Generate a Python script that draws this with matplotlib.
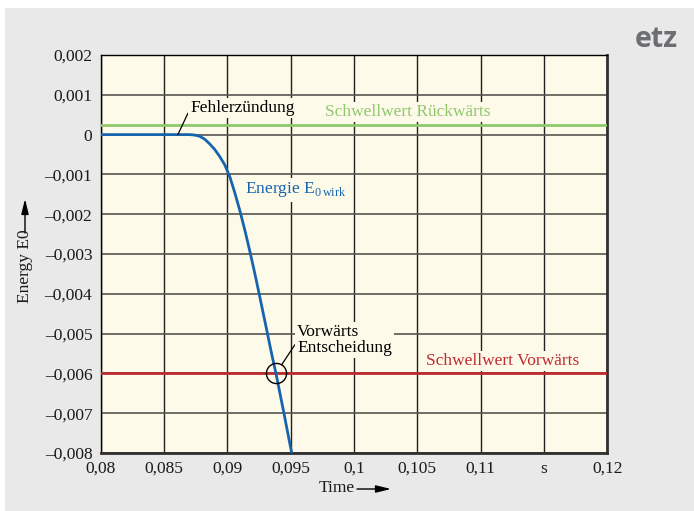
import numpy as np
import matplotlib
matplotlib.use("Agg")
import matplotlib.pyplot as plt
from matplotlib.patches import Rectangle

plt.rcParams['font.family'] = ['Liberation Serif', 'DejaVu Serif']
plt.rcParams['mathtext.fontset'] = 'custom'
plt.rcParams['mathtext.rm'] = 'Liberation Serif'

# ---- data ----
time_s = [0.0800, 0.0870, 0.0874, 0.0878, 0.0882, 0.0886, 0.0890, 0.0894,
          0.0898, 0.0902, 0.0906, 0.0910, 0.0914, 0.0918, 0.0922, 0.0926,
          0.0930, 0.0935, 0.09384, 0.09447, 0.09508]
energy = [0.0, 0.0, -0.00001, -0.00004, -0.00011, -0.00023, -0.00037, -0.00055,
          -0.00076, -0.00106, -0.00147, -0.00192, -0.00242, -0.00296, -0.00353,
          -0.00413, -0.00474, -0.00551, -0.0060, -0.0070, -0.0080]
thr_backward = 0.00025
thr_forward = -0.006
fault_time = 0.0861

x_ticks = [0.08, 0.085, 0.09, 0.095, 0.10, 0.105, 0.11, 0.115, 0.12]
x_ticklabels = ['0,08', '0,085', '0,09', '0,095', '0,1', '0,105', '0,11', 's', '0,12']
y_ticks = [0.002, 0.001, 0.0, -0.001, -0.002, -0.003, -0.004, -0.005, -0.006, -0.007, -0.008]
y_ticklabels = ['0,002', '0,001', '0', '\u20130,001', '\u20130,002', '\u20130,003', '\u20130,004',
                '\u20130,005', '\u20130,006', '\u20130,007', '\u20130,008']

# ---- colours ----
BG = '#e9e9e9'
AX_BG = '#fefae9'
BLUE = '#1764ae'
GREEN = '#8ec86b'
RED = '#be2b31'

W, H = 694, 511
fig = plt.figure(figsize=(W / 100, H / 100), dpi=100, facecolor='white')
fig.patches.append(Rectangle((5 / W, 0), 1 - 5 / W, 1 - 8 / H, transform=fig.transFigure,
                             facecolor=BG, edgecolor='none', zorder=-10))

ax = fig.add_axes([100.6 / W, 58 / H, 506.8 / W, 398 / H])
ax.set_facecolor(AX_BG)
ax.set_xlim(0.08, 0.12)
ax.set_ylim(-0.008, 0.002)
ax.set_xticks(x_ticks)
ax.set_xticklabels(x_ticklabels)
ax.set_yticks(y_ticks)
ax.set_yticklabels(y_ticklabels)
ax.tick_params(length=0, labelsize=12.5, colors='#1a1a1a')
ax.tick_params(axis='y', pad=6)
ax.tick_params(axis='x', pad=5.5)
ax.grid(axis='x', color='#202020', lw=1.0, zorder=0)
ax.grid(axis='y', color='#555550', lw=1.2, zorder=0)
ax.set_axisbelow(True)
for s in ['left', 'top']:
    ax.spines[s].set_color('black')
    ax.spines[s].set_linewidth(1.0)
for s in ['right', 'bottom']:
    ax.spines[s].set_color('#303030')
    ax.spines[s].set_linewidth(2.0)

ax.axhline(thr_backward, color=GREEN, lw=2.0, zorder=3)
ax.axhline(thr_forward, color=RED, lw=2.0, zorder=3)
ax.plot(time_s, energy, color=BLUE, lw=2.0, zorder=4, solid_capstyle='butt',
        solid_joinstyle='round')

# decision point (curve crossing forward threshold)
t_dec = np.interp(thr_forward, energy[::-1], time_s[::-1])
ax.plot([t_dec], [thr_forward], marker='o', ms=14.5, mfc='none', mec='black', mew=1.0, zorder=5)

box = dict(facecolor=AX_BG, edgecolor='none', pad=1.5)
fs = 12.5
ax.annotate('Fehlerzündung', xy=(fault_time, 0.0), xytext=(0.08706, 0.00067),
            fontsize=fs, color='black', ha='left', va='center', bbox=box, zorder=6,
            arrowprops=dict(arrowstyle='-', color='black', lw=0.9, shrinkA=0, shrinkB=0,
                            relpos=(0, 0.45)))
ax.text(0.0977, 0.00057, 'Schwellwert Rückwärts', fontsize=fs, color=GREEN,
        ha='left', va='center', bbox=box, zorder=6)
ax.text(0.0914, -0.00139, 'Energie E$_{\\mathrm{0\\,wirk}}$', fontsize=fs, color=BLUE,
        ha='left', va='center', bbox=box, zorder=6)
ax.annotate('Vorwärts\nEntscheidung', xy=(t_dec, thr_forward), xytext=(0.0955, -0.00516),
            fontsize=fs, color='black', ha='left', va='center', bbox=box, zorder=6,
            linespacing=1.0,
            arrowprops=dict(arrowstyle='-', color='black', lw=0.9, shrinkA=0, shrinkB=7.5,
                            relpos=(0, 0.45)))
ax.text(0.1057, -0.00569, 'Schwellwert Vorwärts', fontsize=fs, color=RED,
        ha='left', va='center', bbox=box, zorder=6)

# axis labels with arrows
fig.text(25 / W, 1 - 266 / H, 'Energy E0', rotation=90, ha='center', va='center',
         fontsize=fs, color='#1a1a1a')
ax.annotate('', xy=(25 / W, 1 - 199 / H), xytext=(25 / W, 1 - 233 / H),
            xycoords='figure fraction', textcoords='figure fraction',
            arrowprops=dict(arrowstyle='-|>,head_length=0.9,head_width=0.22', color='black',
                            lw=1.0, shrinkA=0, shrinkB=0), annotation_clip=False)
fig.text(336.5 / W, 1 - 488 / H, 'Time', ha='center', va='center', fontsize=fs, color='#1a1a1a')
ax.annotate('', xy=(391 / W, 1 - 489 / H), xytext=(357 / W, 1 - 489 / H),
            xycoords='figure fraction', textcoords='figure fraction',
            arrowprops=dict(arrowstyle='-|>,head_length=0.9,head_width=0.22', color='black',
                            lw=1.0, shrinkA=0, shrinkB=0), annotation_clip=False)

# logo
fig.text(656 / W, 1 - 39 / H, 'etz', ha='center', va='center', fontsize=20.5,
         fontweight='bold', family=['Open Sans', 'DejaVu Sans'], color='#6d6e71')

fig.savefig('out.png', dpi=100, facecolor=fig.get_facecolor())
